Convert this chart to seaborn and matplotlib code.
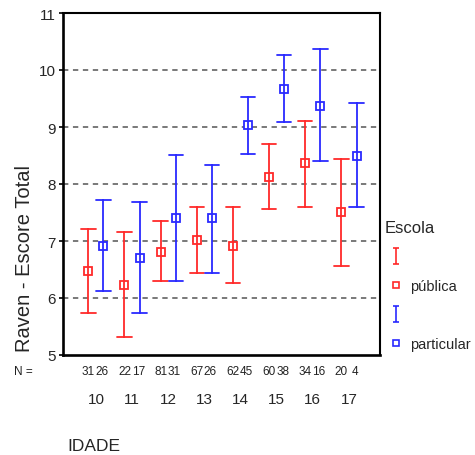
import numpy as np
import pandas as pd
import matplotlib
matplotlib.use("Agg")
import matplotlib.pyplot as plt
import seaborn as sns
from matplotlib.lines import Line2D
from matplotlib.path import Path

# ---- data ----
ages = [10, 11, 12, 13, 14, 15, 16, 17]
pub_mean = [6.47, 6.22, 6.81, 7.02, 6.92, 8.13, 8.36, 7.51]
pub_low = [5.74, 5.31, 6.29, 6.44, 6.27, 7.57, 7.59, 6.57]
pub_high = [7.21, 7.15, 7.35, 7.59, 7.59, 8.70, 9.11, 8.44]
part_mean = [6.92, 6.70, 7.40, 7.40, 9.03, 9.66, 9.37, 8.50]
part_low = [6.13, 5.74, 6.29, 6.44, 8.53, 9.08, 8.40, 7.59]
part_high = [7.72, 7.68, 8.51, 8.33, 9.52, 10.26, 10.37, 9.42]
n_pub = [31, 22, 81, 67, 62, 60, 34, 20]
n_part = [26, 17, 31, 26, 45, 38, 16, 4]
groups = ["pública", "particular"]
colors = ["#ff2a2a", "#2a2aff"]

rows = []
for i, a in enumerate(ages):
    for g, lo, me, hi in [("pública", pub_low, pub_mean, pub_high),
                          ("particular", part_low, part_mean, part_high)]:
        for v in (lo[i], me[i], hi[i]):
            rows.append({"IDADE": str(a), "Escola": g, "valor": v})
df = pd.DataFrame(rows)

sns.set_style("white")
plt.rcParams["font.family"] = ["Liberation Sans", "DejaVu Sans"]

fig = plt.figure(figsize=(4.75, 4.56), dpi=100)
ax = fig.add_axes([63 / 475, 1 - 356 / 456, 317 / 475, 342 / 456])

sns.pointplot(data=df, x="IDADE", y="valor", hue="Escola",
              order=[str(a) for a in ages], hue_order=groups, palette=colors,
              estimator="median", errorbar=("pi", 100), dodge=0.42,
              linestyle="none", markers="s", markersize=5.5,
              markerfacecolor="white", markeredgewidth=1.3,
              capsize=0.4, err_kws={"linewidth": 1.3}, legend=False, ax=ax)

ax.set_xlim(-0.91, 7.86)
ax.set_ylim(5, 11)
ax.set_yticks([5, 6, 7, 8, 9, 10, 11])
ax.set_yticklabels(["5", "6", "7", "8", "9", "10", "11"], fontsize=11)
ax.set_xticks(range(len(ages)))
ax.set_xticklabels([str(a) for a in ages], fontsize=11)
ax.tick_params(axis="x", length=2.5, width=1.5, pad=24, color="black")
ax.tick_params(axis="y", length=3, width=1.2, pad=2, color="black", left=True)
ax.set_xlabel("")
ax.set_ylabel("")
for y in [6, 7, 8, 9, 10]:
    ax.axhline(y, color="#555555", linestyle=(0, (3.5, 3)), linewidth=1.1, zorder=0)
for s in ax.spines.values():
    s.set_color("black")
    s.set_linewidth(1.5)
ax.spines["left"].set_linewidth(1.9)
ax.spines["bottom"].set_linewidth(1.9)

# N row
trans = ax.get_xaxis_transform()
for i in range(len(ages)):
    ax.text(i - 0.21, -0.047, str(n_pub[i]), transform=trans, ha="center",
            va="center", fontsize=8.5, color="#222222")
    ax.text(i + 0.17, -0.047, str(n_part[i]), transform=trans, ha="center",
            va="center", fontsize=8.5, color="#222222")
fig.text(33 / 475, 1 - 372 / 456, "N =", ha="right", va="center",
         fontsize=8.5, color="#222222")

fig.text(25 / 475, 1 - 259 / 456, "Raven - Escore Total", rotation=90,
         ha="center", va="center", fontsize=14.5)
fig.text(67 / 475, 1 - 447 / 456, "IDADE", ha="left", va="center", fontsize=12.5)

# legend
ipath = Path([(-0.2, 0.5), (0.2, 0.5), (0, 0.5), (0, -0.5), (-0.2, -0.5), (0.2, -0.5)],
             [Path.MOVETO, Path.LINETO, Path.MOVETO, Path.LINETO, Path.MOVETO, Path.LINETO])
handles = []
labels = []
for g, c in zip(groups, colors):
    handles.append(Line2D([], [], linestyle="none", marker=ipath, markersize=12,
                          markeredgecolor=c, markeredgewidth=1.2, color=c))
    labels.append("")
    handles.append(Line2D([], [], linestyle="none", marker="s", markersize=5,
                          markerfacecolor="white", markeredgecolor=c,
                          markeredgewidth=1.2))
    labels.append(g)
leg = fig.legend(handles, labels, title="Escola", loc="upper left",
                 bbox_to_anchor=(385 / 475, 1 - 221 / 456), frameon=False,
                 fontsize=10.5, title_fontsize=12, labelspacing=1.03,
                 handlelength=1.5, handletextpad=0.2, borderaxespad=0,
                 borderpad=0)
leg._legend_box.align = "left"

fig.savefig("out.png", dpi=100)
